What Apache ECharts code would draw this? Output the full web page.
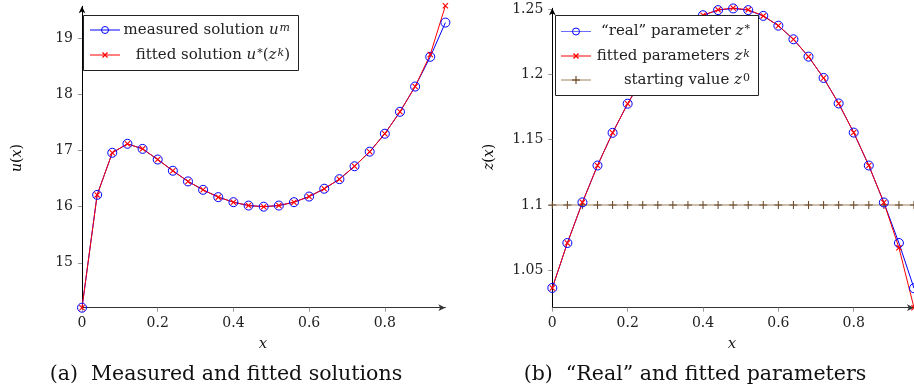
<!DOCTYPE html>
<html>
<head>
<meta charset="utf-8">
<script src="https://cdn.jsdelivr.net/npm/echarts@6/dist/echarts.min.js"></script>
<style>
html,body{margin:0;padding:0;background:#fff;}
#c{width:914px;height:392px;}
</style>
</head>
<body>
<div id="c"></div>
<script>
// ---- data ----
const xs = [0, 0.04, 0.08, 0.12, 0.16, 0.2, 0.24, 0.28, 0.32, 0.36, 0.4, 0.44, 0.48, 0.52, 0.56, 0.6, 0.64, 0.68, 0.72, 0.76, 0.8, 0.84, 0.88, 0.92, 0.96];
const uMeasured = [14.2, 16.21, 16.96, 17.12, 17.03, 16.84, 16.64, 16.45, 16.30, 16.17, 16.08, 16.02, 16.00, 16.02, 16.08, 16.18, 16.32, 16.49, 16.72, 16.98, 17.30, 17.69, 18.14, 18.67, 19.28];
const uFitted   = [14.2, 16.21, 16.96, 17.12, 17.03, 16.84, 16.64, 16.45, 16.30, 16.17, 16.08, 16.02, 16.00, 16.02, 16.08, 16.18, 16.32, 16.49, 16.72, 16.98, 17.30, 17.69, 18.14, 18.71, 19.58];
const zReal   = [1.0365, 1.0709, 1.1020, 1.1302, 1.1552, 1.1775, 1.1971, 1.2135, 1.2268, 1.2372, 1.2452, 1.2491, 1.2504, 1.2491, 1.2447, 1.2372, 1.2268, 1.2135, 1.1972, 1.1777, 1.1554, 1.1302, 1.1019, 1.0709, 1.0363];
const zFitted = [1.0365, 1.0709, 1.1020, 1.1302, 1.1552, 1.1775, 1.1971, 1.2135, 1.2268, 1.2372, 1.2452, 1.2493, 1.2507, 1.2493, 1.2447, 1.2372, 1.2268, 1.2135, 1.1972, 1.1777, 1.1554, 1.1302, 1.1019, 1.0673, 1.0214];
const zStart  = [1.1, 1.1, 1.1, 1.1, 1.1, 1.1, 1.1, 1.1, 1.1, 1.1, 1.1, 1.1, 1.1, 1.1, 1.1, 1.1, 1.1, 1.1, 1.1, 1.1, 1.1, 1.1, 1.1, 1.1, 1.1];
const xTicks = [0, 0.2, 0.4, 0.6, 0.8];
const uTicks = [15, 16, 17, 18, 19];
const zTicks = [1.05, 1.1, 1.15, 1.2, 1.25];
const captionA = '(a)  Measured and fitted solutions';
const captionB = '(b)  \u201cReal\u201d and fitted parameters';

// ---- styling ----
const FONT = '"DejaVu Serif", "Liberation Serif", serif';
const BLUE = '#0000ff', RED = '#ff0000', BROWN_L = '#a08060', BROWN_M = '#6b4a2a';
const XSYM = 'path://M0,1.3 L1.3,0 L10,8.7 L8.7,10 Z M8.7,0 L10,1.3 L1.3,10 L0,8.7 Z';
const PSYM = 'path://M4.35,0 L5.65,0 L5.65,10 L4.35,10 Z M0,4.35 L10,4.35 L10,5.65 L0,5.65 Z';

function pairs(x, y) { return x.map((v, i) => [v, y[i]]); }

function xAxisCfg(gi) {
  return {
    type: 'value', gridIndex: gi, min: 0, max: 0.96,
    splitLine: { show: false },
    axisLine: { onZero: false, lineStyle: { color: '#333', width: 1 }, symbol: ['none', 'arrow'], symbolSize: [5, 7] },
    axisTick: { show: true, customValues: xTicks, length: 4, lineStyle: { color: '#999' } },
    axisLabel: { customValues: xTicks, margin: 9, fontFamily: FONT, fontSize: 14, color: '#222' }
  };
}
function yAxisCfg(gi, min, max, ticks) {
  return {
    type: 'value', gridIndex: gi, min: min, max: max,
    splitLine: { show: false },
    axisLine: { onZero: false, lineStyle: { color: '#000', width: 1 }, symbol: ['none', 'arrow'], symbolSize: [5, 7] },
    axisTick: { show: true, customValues: ticks, length: 4, lineStyle: { color: '#999' } },
    axisLabel: { customValues: ticks, margin: 9, fontFamily: FONT, fontSize: 14, color: '#222' }
  };
}

function makeRich(fs) {
  const ss = Math.round(fs * 0.7);
  return {
    i: { fontFamily: FONT, fontStyle: 'italic', fontSize: fs, color: '#222' },
    n: { fontFamily: FONT, fontSize: fs, color: '#222' },
    s: { fontFamily: FONT, fontStyle: 'italic', fontSize: ss, color: '#222', verticalAlign: 'top', lineHeight: fs - 2, padding: [0, 0, 0, 1] },
    su: { fontFamily: FONT, fontSize: ss, color: '#222', verticalAlign: 'top', lineHeight: fs - 2, padding: [0, 0, 0, 1] }
  };
}
const richL = makeRich(15);
const richA = makeRich(14);

function legendRow(x0, y, color, kind, textStr, textRight) {
  const els = [];
  els.push({ type: 'line', shape: { x1: x0, y1: y, x2: x0 + 30, y2: y }, style: { stroke: color, lineWidth: 1 }, z: 101 });
  const cx = x0 + 15;
  if (kind === 'o') {
    els.push({ type: 'circle', shape: { cx: cx, cy: y, r: 3.5 }, style: { fill: 'none', stroke: BLUE, lineWidth: 1 }, z: 102 });
  } else if (kind === 'x') {
    els.push({ type: 'polyline', shape: { points: [[cx - 2.5, y - 2.5], [cx + 2.5, y + 2.5]] }, style: { stroke: RED, lineWidth: 1.2 }, z: 102 });
    els.push({ type: 'polyline', shape: { points: [[cx - 2.5, y + 2.5], [cx + 2.5, y - 2.5]] }, style: { stroke: RED, lineWidth: 1.2 }, z: 102 });
  } else {
    els.push({ type: 'line', shape: { x1: cx, y1: y - 4, x2: cx, y2: y + 4 }, style: { stroke: BROWN_M, lineWidth: 1.2 }, z: 102 });
    els.push({ type: 'line', shape: { x1: cx - 4, y1: y, x2: cx + 4, y2: y }, style: { stroke: BROWN_M, lineWidth: 1.2 }, z: 102 });
  }
  els.push({ type: 'text', x: textRight, y: y, z: 102, style: { text: textStr, rich: richL, align: 'right', verticalAlign: 'middle', fontFamily: FONT, fontSize: 15, fill: '#222' } });
  return els;
}

const graphics = [];
// legend A
graphics.push({ type: 'rect', shape: { x: 83.5, y: 15.5, width: 215, height: 55 }, style: { fill: '#fff', stroke: '#222', lineWidth: 1 }, z: 100 });
graphics.push(...legendRow(90, 30, BLUE, 'o', '{n|measured solution }{i|u}{s|m}', 290));
graphics.push(...legendRow(90, 55, RED, 'x', '{n|fitted solution }{i|u}{su|*}{n|(}{i|z}{s|k}{n|)}', 290));
// legend B
graphics.push({ type: 'rect', shape: { x: 555.5, y: 15.5, width: 203, height: 80 }, style: { fill: '#fff', stroke: '#222', lineWidth: 1 }, z: 100 });
graphics.push(...legendRow(561, 31.5, '#6a6aff', 'o', '{n|\u201creal\u201d parameter }{i|z}{su|*}', 750));
graphics.push(...legendRow(561, 56, RED, 'x', '{n|fitted parameters }{i|z}{s|k}', 750));
graphics.push(...legendRow(561, 80, BROWN_L, '+', '{n|starting value }{i|z}{su|0}', 750));
// axis names
graphics.push({ type: 'text', x: 263, y: 344, style: { text: 'x', fontFamily: FONT, fontStyle: 'italic', fontSize: 15, fill: '#222', align: 'center', verticalAlign: 'middle' } });
graphics.push({ type: 'text', x: 732, y: 344, style: { text: 'x', fontFamily: FONT, fontStyle: 'italic', fontSize: 15, fill: '#222', align: 'center', verticalAlign: 'middle' } });
graphics.push({ type: 'text', x: 17, y: 158, rotation: Math.PI / 2, style: { text: '{i|u}{n|(}{i|x}{n|)}', rich: richA, align: 'center', verticalAlign: 'middle' } });
graphics.push({ type: 'text', x: 489, y: 157, rotation: Math.PI / 2, style: { text: '{i|z}{n|(}{i|x}{n|)}', rich: richA, align: 'center', verticalAlign: 'middle' } });
// captions
graphics.push({ type: 'text', x: 226, y: 375, style: { text: captionA, fontFamily: FONT, fontSize: 20.5, fill: '#111', align: 'center', verticalAlign: 'middle' } });
graphics.push({ type: 'text', x: 695, y: 375, style: { text: captionB, fontFamily: FONT, fontSize: 20.5, fill: '#111', align: 'center', verticalAlign: 'middle' } });

const chart = echarts.init(document.getElementById('c'), null, { renderer: 'canvas' });
chart.setOption({
  animation: false,
  backgroundColor: '#fff',
  grid: [
    { left: 82, top: 6.3, width: 363.4, height: 301.4, containLabel: false },
    { left: 552.3, top: 8.3, width: 362.4, height: 299.4, containLabel: false }
  ],
  xAxis: [xAxisCfg(0), xAxisCfg(1)],
  yAxis: [yAxisCfg(0, 14.2, 19.57, uTicks), yAxisCfg(1, 1.0214, 1.2505, zTicks)],
  series: [
    { type: 'line', xAxisIndex: 0, yAxisIndex: 0, data: pairs(xs, uMeasured), clip: false,
      lineStyle: { color: BLUE, width: 1 }, symbol: 'circle', symbolSize: 9,
      itemStyle: { color: 'rgba(0,0,0,0)', borderColor: BLUE, borderWidth: 1 } },
    { type: 'line', xAxisIndex: 0, yAxisIndex: 0, data: pairs(xs, uFitted), clip: false,
      lineStyle: { color: RED, width: 1 }, symbol: XSYM, symbolSize: 6,
      itemStyle: { color: RED } },
    { type: 'line', xAxisIndex: 1, yAxisIndex: 1, data: pairs(xs, zStart), clip: false,
      lineStyle: { color: BROWN_L, width: 1.2 }, symbol: PSYM, symbolSize: 8,
      itemStyle: { color: BROWN_M } },
    { type: 'line', xAxisIndex: 1, yAxisIndex: 1, data: pairs(xs, zReal), clip: false,
      lineStyle: { color: BLUE, width: 1 }, symbol: 'circle', symbolSize: 9,
      itemStyle: { color: 'rgba(0,0,0,0)', borderColor: BLUE, borderWidth: 1 } },
    { type: 'line', xAxisIndex: 1, yAxisIndex: 1, data: pairs(xs, zFitted), clip: false,
      lineStyle: { color: RED, width: 1 }, symbol: XSYM, symbolSize: 6,
      itemStyle: { color: RED } }
  ],
  graphic: graphics
});
</script>
</body>
</html>
